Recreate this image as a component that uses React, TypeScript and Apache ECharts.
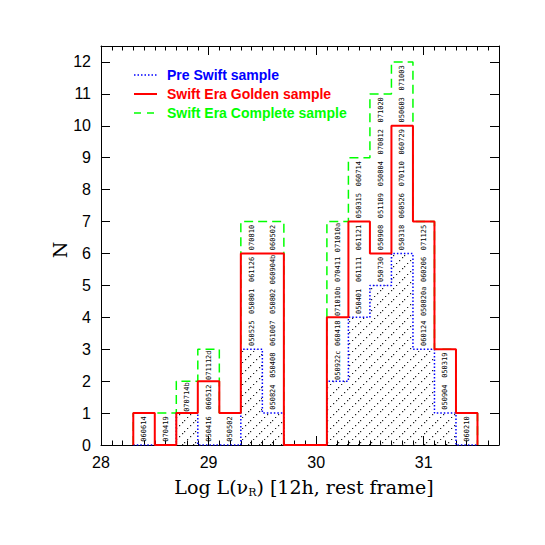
import React, { useEffect, useRef } from "react";
import * as echarts from "echarts";

// Bin left edges (log luminosity), bin width 0.2
const binStarts = [28.3, 28.5, 28.7, 28.9, 29.1, 29.3, 29.5, 29.7, 29.9, 30.1, 30.3, 30.5, 30.7, 30.9, 31.1, 31.3];
const binWidth = 0.2;
const preSwift = [0, 0, 1, 0, 0, 3, 1, 0, 0, 2, 4, 5, 6, 3, 1, 0];
const golden = [1, 0, 1, 2, 1, 6, 6, 0, 0, 4, 7, 6, 10, 7, 3, 1];
const complete = [1, 1, 2, 3, 1, 7, 7, 0, 0, 7, 9, 11, 12, 7, 3, 1];
const binLabels: string[][] = [
  ["060614"],
  ["070419"],
  ["070714b"],
  ["050416", "060512", "071112d"],
  ["050502"],
  ["050525", "050801", "061126", "070810"],
  ["050824", "050408", "061007", "050802", "060904b", "060502"],
  [],
  [],
  ["050922c", "060418", "071010b", "070411", "071010a"],
  ["050401", "061111", "061121", "050315", "060714"],
  ["050730", "050908", "051109", "050804", "070812", "071020"],
  ["050318", "060526", "070110", "060729", "050603", "071003"],
  ["060124", "050820a", "060206", "071125"],
  ["050904", "050319"],
  ["060210"],
];
const legendNames = ["Pre Swift sample", "Swift Era Golden sample", "Swift Era Complete sample"];

function stepPoints(vals: number[]) {
  const pts: number[][] = [[binStarts[0], 0]];
  vals.forEach((v, i) => pts.push([binStarts[i], v]));
  const last = vals.length - 1;
  const end = Math.round((binStarts[last] + binWidth) * 10) / 10;
  pts.push([end, vals[last]]);
  pts.push([end, 0]);
  return pts;
}

function makeHatch() {
  const size = 11;
  const c = document.createElement("canvas");
  c.width = size;
  c.height = size;
  const ctx = c.getContext("2d")!;
  ctx.fillStyle = "#222";
  for (let k = 0; k < 4; k++) {
    const t = k * (size / 4);
    ctx.fillRect(Math.round(t), size - Math.round(t) - 1, 1.2, 1.2);
  }
  return c;
}

export default function App() {
  const ref = useRef<HTMLDivElement>(null);
  useEffect(() => {
    if (!ref.current) return;
    const chart = echarts.init(ref.current, null, { renderer: "svg" });

    const labelItems: { pos: number[]; text: string }[] = [];
    binLabels.forEach((arr, i) => {
      arr.forEach((t, j) => {
        labelItems.push({ pos: [binStarts[i] + binWidth / 2, preSwift[i] + j + 0.5], text: t });
      });
    });

    const axisCommon = {
      type: "value" as const,
      axisLine: { show: true, onZero: false, lineStyle: { color: "#000", width: 1 } },
      axisTick: { show: true, inside: true, length: 9, lineStyle: { color: "#000", width: 1 } },
      splitLine: { show: false },
      minorSplitLine: { show: false },
    };
    const labelFont = { fontFamily: "Liberation Sans", fontSize: 16, color: "#000" };
    const legendFont = "bold 14px 'Liberation Sans'";

    const hatch = makeHatch();

    chart.setOption({
      animation: false,
      backgroundColor: "#fff",
      grid: { left: 101, right: 46, top: 46, bottom: 100 },
      xAxis: [
        {
          ...axisCommon,
          min: 28,
          max: 31.7,
          interval: 1,
          position: "bottom",
          minorTick: { show: true, splitNumber: 10, length: 4.5, lineStyle: { color: "#000", width: 1 } },
          axisLabel: { ...labelFont, showMaxLabel: false, margin: 9 },
        },
        {
          ...axisCommon,
          min: 28,
          max: 31.7,
          interval: 1,
          position: "top",
          minorTick: { show: true, splitNumber: 10, length: 4.5, lineStyle: { color: "#000", width: 1 } },
          axisLabel: { show: false },
        },
      ],
      yAxis: [
        {
          ...axisCommon,
          min: 0,
          max: 12.5,
          interval: 1,
          position: "left",
          axisLabel: { ...labelFont, showMaxLabel: false, margin: 10 },
        },
        {
          ...axisCommon,
          min: 0,
          max: 12.5,
          interval: 1,
          position: "right",
          axisLabel: { show: false },
        },
      ],
      series: [
        {
          name: legendNames[2],
          type: "line",
          step: "end",
          data: stepPoints(complete),
          showSymbol: false,
          lineStyle: { color: "#00ff00", width: 1.5, type: [9, 5] },
          z: 2,
        },
        {
          name: legendNames[0],
          type: "line",
          step: "end",
          data: stepPoints(preSwift),
          showSymbol: false,
          lineStyle: { color: "#0000ff", width: 1.5, type: [1.5, 2] },
          areaStyle: { color: { image: hatch, repeat: "repeat" } as any, opacity: 1 },
          z: 3,
        },
        {
          name: legendNames[1],
          type: "line",
          step: "end",
          data: stepPoints(golden),
          showSymbol: false,
          lineStyle: { color: "#ff0000", width: 2 },
          z: 4,
        },
        {
          type: "custom",
          data: labelItems.map((d) => d.pos),
          z: 5,
          renderItem: (params: any, api: any) => {
            const p = api.coord([api.value(0), api.value(1)]);
            return {
              type: "text",
              x: p[0],
              y: p[1],
              rotation: Math.PI / 2,
              style: {
                text: labelItems[params.dataIndex].text,
                x: 0,
                y: 0,
                align: "center",
                verticalAlign: "middle",
                fontSize: 7,
                fontFamily: "DejaVu Sans Mono",
                fill: "#000",
              },
            };
          },
        },
      ],
      graphic: [
        { type: "line", shape: { x1: 134, y1: 75, x2: 157, y2: 75 }, style: { stroke: "#0000ff", lineWidth: 1.5, lineDash: [1.5, 2] } },
        { type: "line", shape: { x1: 134, y1: 94, x2: 157, y2: 94 }, style: { stroke: "#ff0000", lineWidth: 2 } },
        { type: "line", shape: { x1: 134, y1: 113, x2: 157, y2: 113 }, style: { stroke: "#00ff00", lineWidth: 1.5, lineDash: [7, 6] } },
        { type: "text", x: 167, y: 75, style: { text: legendNames[0], fill: "#0000ff", font: legendFont, verticalAlign: "middle" } },
        { type: "text", x: 167, y: 94, style: { text: legendNames[1], fill: "#ff0000", font: legendFont, verticalAlign: "middle" } },
        { type: "text", x: 167, y: 113, style: { text: legendNames[2], fill: "#00ff00", font: legendFont, verticalAlign: "middle" } },
        {
          type: "text",
          x: 304,
          y: 487,
          style: {
            text: "Log L(ν{sub|R}) [12h, rest frame]",
            fill: "#000",
            font: "19px 'DejaVu Serif'",
            align: "center",
            verticalAlign: "middle",
            rich: { sub: { fontSize: 11, fontFamily: "DejaVu Serif", verticalAlign: "bottom", padding: [10, 0, 0, 0] } },
          } as any,
        },
        {
          type: "text",
          x: 60,
          y: 250,
          rotation: Math.PI / 2,
          style: { text: "N", fill: "#000", font: "19px 'DejaVu Serif'", align: "center", verticalAlign: "middle" },
        },
      ],
    });
    return () => chart.dispose();
  }, []);
  return <div ref={ref} style={{ position: "fixed", left: 0, top: 0, width: 545, height: 545 }} />;
}
